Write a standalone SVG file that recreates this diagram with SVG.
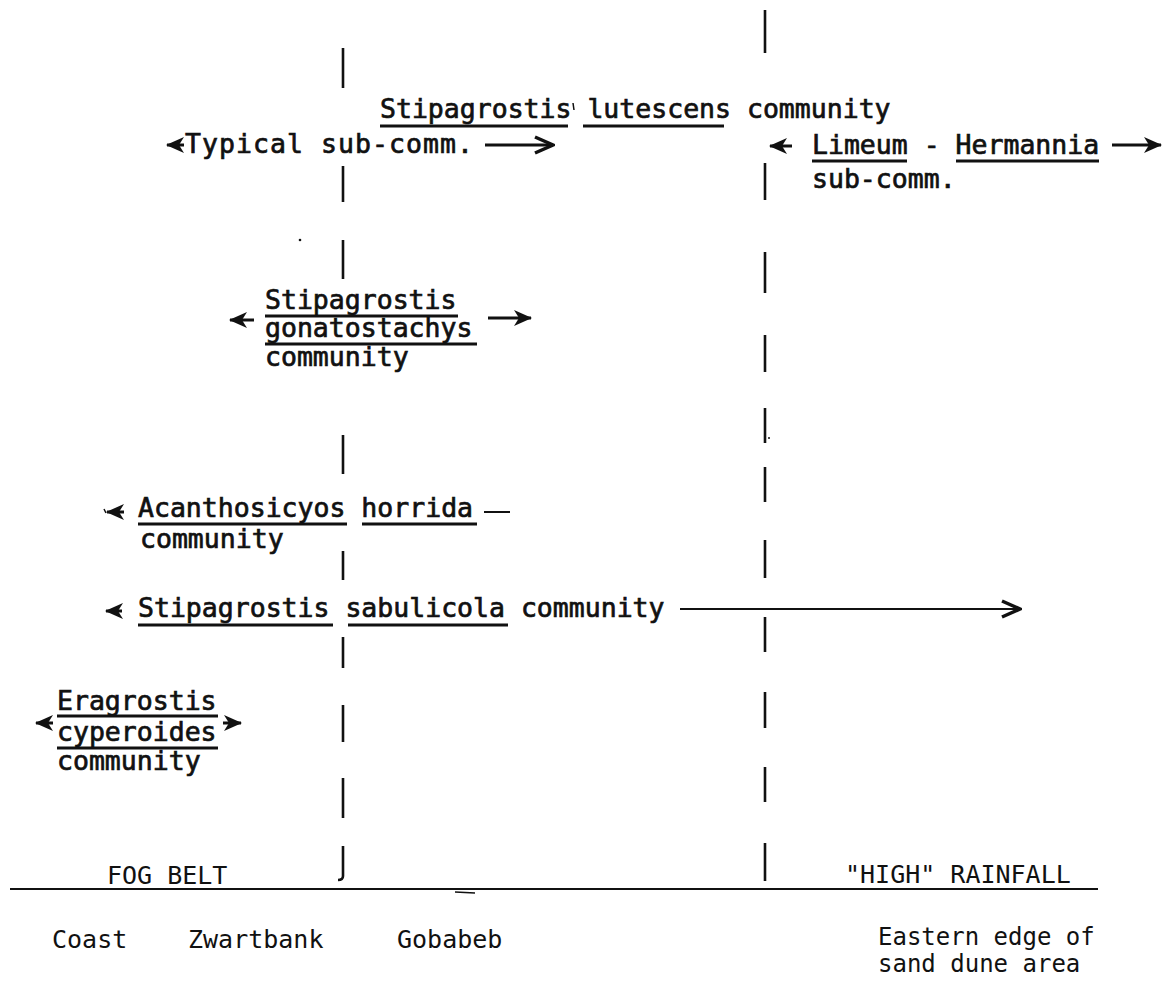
<svg xmlns="http://www.w3.org/2000/svg" width="1163" height="981" viewBox="0 0 1163 981">
<style>
.t{font-family:"DejaVu Sans Mono","Liberation Mono",monospace;font-size:26.5px;fill:#111;stroke:#111;stroke-width:0.7}
.b{font-family:"DejaVu Sans Mono","Liberation Mono",monospace;font-size:25px;fill:#111}
.ul{stroke:#111;stroke-width:3}
.d{stroke:#111;stroke-width:2.6;fill:none}
.a{stroke:#111;stroke-width:3;fill:none}
.s{stroke:#111;stroke-width:2;fill:none}
</style>
<defs>
<marker id="hs" markerUnits="userSpaceOnUse" markerWidth="18" markerHeight="16" refX="17" refY="8" orient="auto"><path d="M0,0 L18,8 L0,16 L5,8 z" fill="#111"/></marker>
<marker id="hc" markerUnits="userSpaceOnUse" markerWidth="22" markerHeight="20" refX="20" refY="10" orient="auto"><path d="M2,2 L20,10 L2,18" fill="none" stroke="#111" stroke-width="3.5"/></marker>
</defs>
<rect width="1163" height="981" fill="#fff"/>
<g id="boundaries">
<path class="d" d="M343,48V88 M343,166V202 M343,240V279 M343,435V474 M343,551V580 M343,637V668 M343,705V742 M343,778V818 M343,846V876 Q343,880 338,880"/>
<path class="d" d="M765,10V53 M765,163V200 M765,252V293 M765,335V372 M765,408V443 M765,467V502 M765,540V578 M765,617V652 M765,692V728 M765,767V802 M765,843V881"/>
<path class="s" d="M10,889H1098"/>
<path stroke="#111" stroke-width="1.5" d="M455,892L475,893 M573,103L574,110 M104,509L106,513"/>
<circle cx="769" cy="438" r="1" fill="#111"/>
<circle cx="300" cy="240" r="1.3" fill="#111"/>
</g>
<g id="lutescens">
<text class="t" x="380" y="118">Stipagrostis lutescens community</text>
<path class="ul" d="M380,126H568 M583,126H724"/>
</g>
<g id="typical">
<text class="t" x="185" y="153" textLength="288" lengthAdjust="spacing">Typical sub-comm.</text>
</g>
<g id="limeum">
<text class="t" x="812" y="154">Limeum - Hermannia</text>
<text class="t" x="812" y="188">sub-comm.</text>
<path class="ul" d="M812,161H907 M956,161H1099"/>
</g>
<g id="gonatostachys">
<text class="t" x="265" y="309">Stipagrostis</text>
<text class="t" x="265" y="337">gonatostachys</text>
<text class="t" x="265" y="366">community</text>
<path class="ul" d="M265,316H458 M265,344H477"/>
</g>
<g id="acanthosicyos">
<text class="t" x="138" y="517">Acanthosicyos horrida</text>
<text class="t" x="140" y="548">community</text>
<path class="ul" d="M138,524H347 M362,524H477"/>
<path class="s" d="M484,512H510"/>
</g>
<g id="sabulicola">
<text class="t" x="138" y="617">Stipagrostis sabulicola community</text>
<path class="ul" d="M138,625H333 M348,625H508"/>
</g>
<g id="eragrostis">
<text class="t" x="57" y="710">Eragrostis</text>
<text class="t" x="57" y="741">cyperoides</text>
<text class="t" x="57" y="770">community</text>
<path class="ul" d="M57,716H218 M57,748H218"/>
</g>
<g id="labels">
<text class="b" x="107" y="884">FOG BELT</text>
<text class="b" x="845" y="883">"HIGH" RAINFALL</text>
<text class="b" x="52" y="948">Coast</text>
<text class="b" x="188" y="948">Zwartbank</text>
<text class="b" x="397" y="948">Gobabeb</text>
<text class="b" x="878" y="945" style="font-size:24px">Eastern edge of</text>
<text class="b" x="878" y="972" style="font-size:24px">sand dune area</text>
</g>
<g id="connectors">
<path class="a" d="M184,145H167" marker-end="url(#hs)"/>
<path class="a" d="M485,145H553" marker-end="url(#hc)"/>
<path class="a" d="M792,146H770" marker-end="url(#hs)"/>
<path class="a" d="M1112,145H1161" marker-end="url(#hs)"/>
<path class="a" d="M254,320H230" marker-end="url(#hs)"/>
<path class="a" d="M488,318H531" marker-end="url(#hs)"/>
<path class="a" d="M124,512H107" marker-end="url(#hs)"/>
<path class="a" d="M122,611H106" marker-end="url(#hs)"/>
<path class="s" d="M680,609H1020" marker-end="url(#hc)"/>
<path class="a" d="M53,723H36" marker-end="url(#hs)"/>
<path class="a" d="M223,723H241" marker-end="url(#hs)"/>
</g>
</svg>
